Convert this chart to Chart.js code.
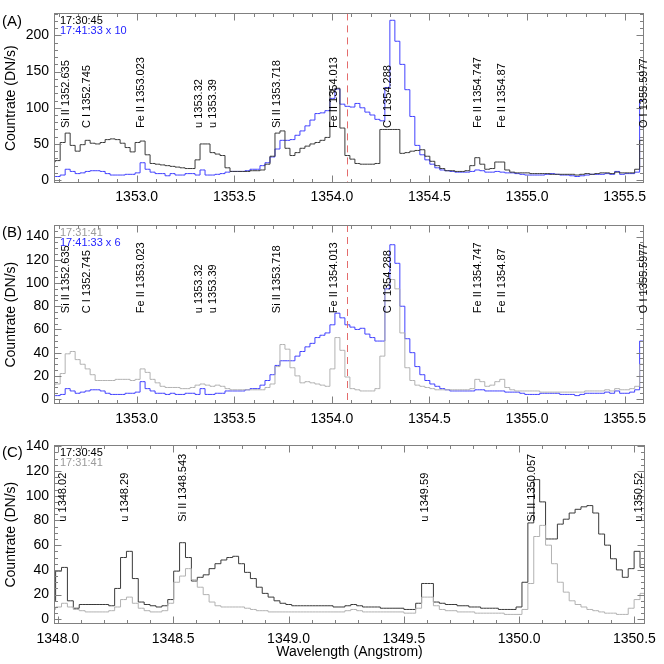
<!DOCTYPE html>
<html>
<head>
<meta charset="utf-8">
<title>IRIS FUV spectra</title>
<script src="https://cdn.jsdelivr.net/npm/chart.js@4.4.1/dist/chart.umd.min.js"></script>
<style>
  html, body { margin: 0; padding: 0; background: #fff; }
  #wrap { position: relative; width: 664px; height: 664px; }
  canvas { position: absolute; left: 0; }
</style>
</head>
<body>
<div id="wrap">
  <canvas id="panelA" width="664" height="210" style="top:0px"></canvas>
  <canvas id="panelB" width="664" height="220" style="top:210px"></canvas>
  <canvas id="panelC" width="664" height="234" style="top:430px"></canvas>
</div>
<script>
// spectral bins (Angstrom): centre of the first bin and bin width
const binWidth = 0.0256;
const firstBinAB = 1352.5692;
const firstBinC = 1347.9772;

// panel A : 17:30:45 and 17:41:33 x 10
const count1730A = [25, 27, 52, 65, 48, 40, 49, 55, 51, 50, 52, 56, 57, 56, 51, 45, 39, 52, 54, 35,
  23, 22, 21, 20, 19, 18, 17, 16, 16, 28, 50, 50, 38, 36, 34, 17, 12, 12, 12, 12,
  13, 13, 14, 22, 33, 65, 68, 44, 34, 38, 44, 47, 50, 52, 55, 59, 124, 127, 72, 34,
  29, 23, 22, 22, 22, 23, 70, 70, 70, 70, 37, 38, 40, 41, 42, 33, 26, 20, 16, 13,
  13, 12, 12, 13, 20, 31, 22, 15, 16, 25, 25, 14, 11, 10, 10, 10, 9, 9, 9, 9,
  8, 8, 8, 8, 8, 7, 8, 9, 8, 9, 10, 10, 9, 11, 10, 10, 10, 15, 55, 70];
const count1741A = [5, 5, 7, 15, 12, 9, 10, 12, 13, 13, 12, 9, 7, 7, 7, 8, 8, 10, 24, 15,
  11, 9, 9, 6, 9, 7, 7, 9, 9, 7, 14, 7, 7, 8, 9, 11, 12, 12, 12, 13,
  15, 15, 20, 24, 32, 43, 55, 55, 56, 62, 68, 75, 83, 92, 93, 96, 113, 126, 105, 102,
  101, 106, 100, 94, 90, 84, 82, 128, 221, 192, 160, 125, 88, 48, 35, 28, 22, 17, 14, 13,
  12, 11, 11, 11, 12, 14, 13, 11, 11, 12, 11, 10, 10, 9, 8, 7, 7, 7, 7, 8,
  9, 8, 7, 7, 6, 5, 6, 7, 8, 8, 8, 9, 8, 12, 8, 9, 9, 11, 110, 140];

// panel B : 17:31:41 and 17:41:33 x 6
const count1731B = [12, 13, 22, 39, 41, 34, 30, 26, 21, 16, 16, 16, 16, 17, 17, 17, 16, 17, 26, 23,
  17, 14, 11, 10, 10, 10, 9, 9, 10, 12, 13, 12, 11, 12, 11, 9, 8, 8, 8, 8,
  8, 8, 8, 10, 13, 28, 47, 43, 27, 20, 14, 15, 14, 13, 12, 11, 26, 53, 42, 19,
  9, 8, 7, 7, 7, 9, 37, 100, 103, 95, 57, 27, 16, 12, 11, 10, 9, 8, 8, 8,
  8, 8, 8, 8, 9, 17, 15, 11, 12, 15, 17, 10, 8, 7, 7, 7, 7, 7, 6, 6,
  6, 6, 6, 6, 6, 6, 6, 7, 7, 7, 7, 8, 7, 9, 8, 8, 9, 11, 30, 45];
const count1741B = [3, 3, 4, 9, 7, 5, 6, 7, 8, 8, 7, 5, 4, 4, 4, 5, 5, 6, 15, 9,
  7, 5, 5, 4, 5, 4, 4, 5, 5, 4, 9, 4, 4, 5, 5, 7, 7, 7, 7, 8,
  9, 9, 12, 16, 21, 29, 33, 33, 33, 37, 41, 45, 48, 53, 55, 57, 64, 74, 70, 64,
  62, 60, 61, 56, 53, 50, 50, 95, 133, 117, 80, 52, 40, 28, 21, 16, 13, 11, 9, 8,
  7, 7, 7, 7, 7, 8, 8, 7, 7, 7, 7, 6, 6, 6, 5, 4, 4, 4, 5, 5,
  5, 5, 4, 4, 4, 3, 4, 5, 5, 5, 5, 6, 5, 7, 5, 5, 6, 8, 50, 80];

// panel C : 17:30:45 and 17:31:41
const count1730C = [15, 39, 42, 15, 9, 12, 12, 12, 12, 12, 11, 25, 50, 55, 33, 14, 12, 11, 10, 11,
  16, 39, 62, 50, 31, 34, 36, 41, 45, 48, 50, 51, 45, 38, 33, 26, 21, 18, 15, 13,
  12, 11, 11, 11, 11, 11, 11, 11, 10, 10, 11, 12, 11, 10, 10, 10, 9, 9, 9, 9,
  8, 8, 13, 29, 29, 14, 13, 12, 12, 11, 11, 10, 10, 9, 9, 9, 8, 8, 8, 10,
  30, 78, 113, 95, 65, 65, 77, 81, 86, 89, 91, 92, 86, 69, 60, 49, 40, 34, 41, 55,
  42, 40];
const count1731C = [8, 10, 13, 10, 8, 7, 6, 6, 6, 6, 7, 10, 16, 18, 13, 9, 7, 6, 6, 7,
  13, 30, 35, 41, 32, 26, 20, 14, 11, 10, 10, 10, 10, 9, 8, 7, 7, 6, 6, 6,
  6, 6, 6, 6, 6, 6, 6, 6, 6, 6, 7, 8, 7, 6, 6, 6, 6, 6, 6, 6,
  5, 5, 9, 18, 18, 11, 8, 7, 7, 6, 6, 6, 5, 5, 5, 5, 5, 4, 4, 4,
  8, 29, 67, 76, 60, 45, 30, 22, 15, 12, 10, 8, 7, 6, 5, 5, 4, 4, 9, 16,
  21, 24];

// tick labels
const xTicksAB = [1353.0, 1353.5, 1354.0, 1354.5, 1355.0, 1355.5];
const xTicksC = [1348.0, 1348.5, 1349.0, 1349.5, 1350.0, 1350.5];
const yTicksA = [0, 50, 100, 150, 200];
const yTicksBC = [0, 20, 40, 60, 80, 100, 120, 140];

// line identifications
const linesAB = ['Si II 1352.635', 'C I 1352.745', 'Fe II 1353.023', 'u 1353.32', 'u 1353.39',
  'Si II 1353.718', 'Fe II 1354.013', 'C I 1354.288', 'Fe II 1354.747', 'Fe II 1354.87', 'O I 1355.5977'];
const linesABWave = [1352.635, 1352.745, 1353.023, 1353.32, 1353.39,
  1353.718, 1354.013, 1354.288, 1354.747, 1354.87, 1355.5977];
const linesC = ['u 1348.02', 'u 1348.29', 'Si II 1348.543', 'u 1349.59', 'Si II 1350.057', 'u 1350.52'];
const linesCWave = [1348.02, 1348.29, 1348.543, 1349.59, 1350.057, 1350.52];
const markWave = 1354.078;

const legendA = ['17:30:45', '17:41:33 x 10'];
const legendB = ['17:31:41', '17:41:33 x 6'];
const legendC = ['17:30:45', '17:31:41'];

const FONT = '"Liberation Sans", Arial, Helvetica, sans-serif';
const DARK = '#3a3a3a';
const LIGHT = '#b2b2b2';
const BLUE = '#4040ff';

const toPoints = (first, counts) => counts.map((c, i) => ({ x: first + i * binWidth, y: c }));

// frame, inward ticks, line ids, legend text, panel letter
const decor = {
  id: 'decor',
  afterDatasetsDraw(chart, args, o) {
    const { ctx, chartArea: a, scales: { x, y } } = chart;
    ctx.save();

    if (o.mark) {
      const px = Math.round(x.getPixelForValue(o.mark)) + 0.5;
      ctx.strokeStyle = '#e46c6c';
      ctx.lineWidth = 1;
      ctx.setLineDash([7, 5]);
      ctx.beginPath();
      ctx.moveTo(px, a.top);
      ctx.lineTo(px, a.bottom);
      ctx.stroke();
      ctx.setLineDash([]);
    }

    ctx.strokeStyle = '#808080';
    ctx.lineWidth = 1;
    const L = Math.round(a.left) + 0.5, R = Math.round(a.right) - 0.5;
    const T = Math.round(a.top) + 0.5, B = Math.round(a.bottom) - 0.5;
    ctx.strokeRect(L, T, R - L, B - T);
    ctx.beginPath();
    const n0 = Math.ceil(x.min / o.xMinor - 1e-6), n1 = Math.floor(x.max / o.xMinor + 1e-6);
    for (let n = n0; n <= n1; n++) {
      const v = n * o.xMinor;
      const r = v / o.xMajor;
      const len = Math.abs(r - Math.round(r)) < 1e-6 ? 7 : 3.5;
      const px = Math.round(x.getPixelForValue(v)) + 0.5;
      ctx.moveTo(px, B); ctx.lineTo(px, B - len);
      ctx.moveTo(px, T); ctx.lineTo(px, T + len);
    }
    const m0 = Math.ceil(y.min / o.yMinor), m1 = Math.floor(y.max / o.yMinor);
    for (let m = m0; m <= m1; m++) {
      const v = m * o.yMinor;
      const len = v % o.yMajor === 0 ? 7 : 3.5;
      const py = Math.round(y.getPixelForValue(v)) + 0.5;
      ctx.moveTo(L, py); ctx.lineTo(L + len, py);
      ctx.moveTo(R, py); ctx.lineTo(R - len, py);
    }
    ctx.stroke();

    // line identifications, written upwards
    ctx.font = '11px ' + FONT;
    ctx.fillStyle = '#000';
    ctx.textAlign = 'left';
    ctx.textBaseline = 'middle';
    const yb = y.getPixelForValue(o.idLevel);
    o.ids.forEach((txt, i) => {
      const px = x.getPixelForValue(o.idWaves[i]);
      ctx.save();
      ctx.translate(px, yb);
      ctx.rotate(-Math.PI / 2);
      ctx.fillText(txt, 0, 0);
      ctx.restore();
    });

    // legend
    o.legend.forEach((txt, i) => {
      ctx.fillStyle = o.legendColors[i];
      ctx.fillText(txt, a.left + 6, a.top + 7.5 + 10 * i);
    });

    // panel letter
    ctx.font = '15px ' + FONT;
    ctx.fillStyle = '#000';
    ctx.fillText(o.letter, 2, a.top + 8);
    ctx.restore();
  }
};

function makePanel(id, p) {
  const tickFont = { family: FONT, size: 14 };
  return new Chart(document.getElementById(id), {
    type: 'line',
    data: {
      datasets: p.series.map(s => ({
        data: s.points,
        borderColor: s.color,
        borderWidth: 1,
        pointRadius: 0,
        stepped: 'middle',
        fill: false
      }))
    },
    options: {
      responsive: false,
      animation: false,
      devicePixelRatio: 1,
      layout: { padding: { top: p.padTop, right: p.padRight, left: 0, bottom: 0 } },
      plugins: {
        legend: { display: false },
        tooltip: { enabled: false },
        decor: p.decor
      },
      scales: {
        x: {
          type: 'linear',
          min: p.xMin,
          max: p.xMax,
          grid: { display: false, drawTicks: false },
          border: { display: false },
          afterBuildTicks: s => { s.ticks = p.xTicks.map(v => ({ value: v })); },
          afterFit: s => { s.height = p.xHeight; },
          ticks: {
            padding: 6, color: '#000', font: tickFont, maxRotation: 0, autoSkip: false,
            callback: v => Number(v).toFixed(1)
          },
          title: {
            display: !!p.xTitle, text: p.xTitle || '', color: '#000',
            font: { family: FONT, size: 14 }, padding: { top: 0, bottom: 3 }
          }
        },
        y: {
          type: 'linear',
          min: p.yMin,
          max: p.yMax,
          grid: { display: false, drawTicks: false },
          border: { display: false },
          afterBuildTicks: s => { s.ticks = p.yTicks.map(v => ({ value: v })); },
          afterFit: s => { s.width = 54; },
          ticks: { padding: 5, color: '#000', font: tickFont, callback: v => String(v) },
          title: {
            display: true, text: 'Countrate (DN/s)', color: '#000',
            font: { family: FONT, size: 14 }, padding: { top: 3, bottom: 0 }
          }
        }
      }
    },
    plugins: [decor]
  });
}

makePanel('panelA', {
  padTop: 4, padRight: 20.5, xHeight: 27,
  xMin: 1352.576, xMax: 1355.597, yMin: -4, yMax: 230.5,
  xTicks: xTicksAB, yTicks: yTicksA,
  series: [
    { points: toPoints(firstBinAB, count1730A), color: DARK },
    { points: toPoints(firstBinAB, count1741A), color: BLUE }
  ],
  decor: {
    letter: '(A)', mark: markWave,
    xMinor: 0.1, xMajor: 0.5, yMinor: 10, yMajor: 50,
    ids: linesAB, idWaves: linesABWave, idLevel: 72,
    legend: legendA, legendColors: ['#000', '#2424ff']
  }
});

makePanel('panelB', {
  padTop: 15, padRight: 20.5, xHeight: 25.7,
  xMin: 1352.576, xMax: 1355.597, yMin: -4.5, yMax: 150,
  xTicks: xTicksAB, yTicks: yTicksBC,
  series: [
    { points: toPoints(firstBinAB, count1731B), color: LIGHT },
    { points: toPoints(firstBinAB, count1741B), color: BLUE }
  ],
  decor: {
    letter: '(B)', mark: markWave,
    xMinor: 0.1, xMajor: 0.5, yMinor: 5, yMajor: 20,
    ids: linesAB, idWaves: linesABWave, idLevel: 74,
    legend: legendB, legendColors: ['#9a9a9a', '#2424ff']
  }
});

makePanel('panelC', {
  padTop: 15, padRight: 19, xHeight: 39.7, xTitle: 'Wavelength (Angstrom)',
  xMin: 1347.983, xMax: 1350.546, yMin: -4, yMax: 141,
  xTicks: xTicksC, yTicks: yTicksBC,
  series: [
    { points: toPoints(firstBinC, count1731C), color: LIGHT },
    { points: toPoints(firstBinC, count1730C), color: DARK }
  ],
  decor: {
    letter: '(C)', mark: null,
    xMinor: 0.1, xMajor: 0.5, yMinor: 5, yMajor: 20,
    ids: linesC, idWaves: linesCWave, idLevel: 79,
    legend: legendC, legendColors: ['#000', '#9a9a9a']
  }
});
</script>
</body>
</html>
